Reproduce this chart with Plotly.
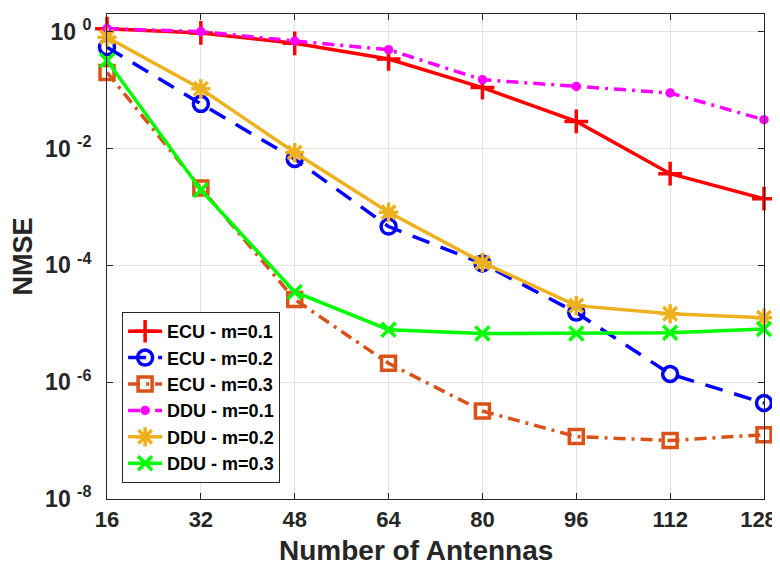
import plotly.graph_objects as go

antennas = [16, 32, 48, 64, 80, 96, 112, 128]

ecu_m01 = [1.12, 0.95, 0.63, 0.34, 0.11, 0.029, 0.0037, 0.00138]
ecu_m02 = [0.54, 0.058, 0.0066, 4.6e-4, 1.07e-4, 1.55e-5, 1.38e-6, 4.4e-7]
ecu_m03 = [0.2, 2.1e-3, 2.6e-5, 2.1e-6, 3.2e-7, 1.17e-7, 1.0e-7, 1.26e-7]
ddu_m01 = [1.12, 1.0, 0.69, 0.49, 0.15, 0.115, 0.089, 0.031]
ddu_m02 = [0.8, 0.105, 0.0085, 8.1e-4, 1.12e-4, 2.04e-5, 1.48e-5, 1.26e-5]
ddu_m03 = [0.32, 1.95e-3, 3.5e-5, 7.9e-6, 6.8e-6, 6.8e-6, 7.0e-6, 8.1e-6]

names = ["ECU - m=0.1", "ECU - m=0.2", "ECU - m=0.3",
         "DDU - m=0.1", "DDU - m=0.2", "DDU - m=0.3"]
series = [ecu_m01, ecu_m02, ecu_m03, ddu_m01, ddu_m02, ddu_m03]

x_ticks = [16, 32, 48, 64, 80, 96, 112, 128]
x_ticktext = ["16", "32", "48", "64", "80", "96", "112", "128\u2002"]
y_tickvals = [1e-8, 1e-6, 1e-4, 1e-2, 1e0]
y_ticktext = ["10&nbsp;<sup>-8</sup>", "10&nbsp;<sup>-6</sup>", "10&nbsp;<sup>-4</sup>",
              "10&nbsp;<sup>-2</sup>", "10&nbsp;<sup>0</sup>"]

styles = [
    dict(color="#FF0000", dash="solid", symbol="cross-thin-open", size=17),
    dict(color="#0000FF", dash="18px,12px", symbol="circle-open", size=15),
    dict(color="#D95319", dash="12px,6px,3px,6px", symbol="square-open", size=14),
    dict(color="#FF00FF", dash="12px,6px,3px,6px", symbol="circle", size=6),
    dict(color="#EDB120", dash="solid", symbol="asterisk-open", size=16),
    dict(color="#00FF00", dash="solid", symbol="x-thin-open", size=14),
]

FONT = "Liberation Sans, Arial, Helvetica, sans-serif"
fig = go.Figure()
for name, ys, st in zip(names, series, styles):
    fig.add_trace(go.Scatter(
        x=antennas, y=ys, name=name, mode="lines+markers",
        cliponaxis=False,
        line=dict(color=st["color"], width=3.5, dash=st["dash"]),
        marker=dict(symbol=st["symbol"], size=st["size"], color=st["color"],
                    line=dict(color=st["color"], width=3.5)),
    ))

# page body adds an 8px offset at left/top; size and margins compensate for it
fig.update_layout(
    width=772, height=557,
    margin=dict(l=99, r=16, t=6, b=66, autoexpand=False),
    paper_bgcolor="white", plot_bgcolor="white",
    font=dict(family=FONT, color="#262626", size=22, weight="bold"),
    showlegend=True,
    legend=dict(
        x=0.023, y=0.033, xanchor="left", yanchor="bottom",
        bgcolor="white", bordercolor="#262626", borderwidth=1,
        font=dict(family=FONT, size=18, color="black", weight="bold"),
        itemwidth=34, tracegroupgap=0,
    ),
    annotations=[dict(
        text="Number of Antennas", xref="paper", yref="paper",
        x=0.471, y=0, yshift=-51, xanchor="center", yanchor="middle",
        showarrow=False,
        font=dict(family=FONT, size=28, color="#262626", weight="bold"),
    )],
)
fig.update_xaxes(
    range=[16, 128], tickvals=x_ticks, ticktext=x_ticktext, automargin=False,
    ticklabeloverflow="allow", ticklabelstandoff=1,
    showgrid=True, gridcolor="#E3E3E3", gridwidth=1,
    showline=True, linecolor="#262626", linewidth=1, mirror="ticks",
    ticks="inside", ticklen=6, tickcolor="#262626",
    tickfont=dict(family=FONT, size=22, color="#262626", weight="bold"),
    zeroline=False,
)
fig.update_yaxes(
    type="log", range=[-8, 0.301], automargin=False,
    ticklabeloverflow="allow",
    tickvals=y_tickvals, ticktext=y_ticktext,
    showgrid=True, gridcolor="#E3E3E3", gridwidth=1,
    showline=True, linecolor="#262626", linewidth=1, mirror="ticks",
    ticks="inside", ticklen=6, tickcolor="#262626",
    tickfont=dict(family=FONT, size=23, color="#262626", weight="bold"),
    ticklabelstandoff=10,
    zeroline=False,
    title=dict(text="NMSE", standoff=10,
               font=dict(family=FONT, size=27, color="#262626", weight="bold")),
)

fig.write_html("out.html")
